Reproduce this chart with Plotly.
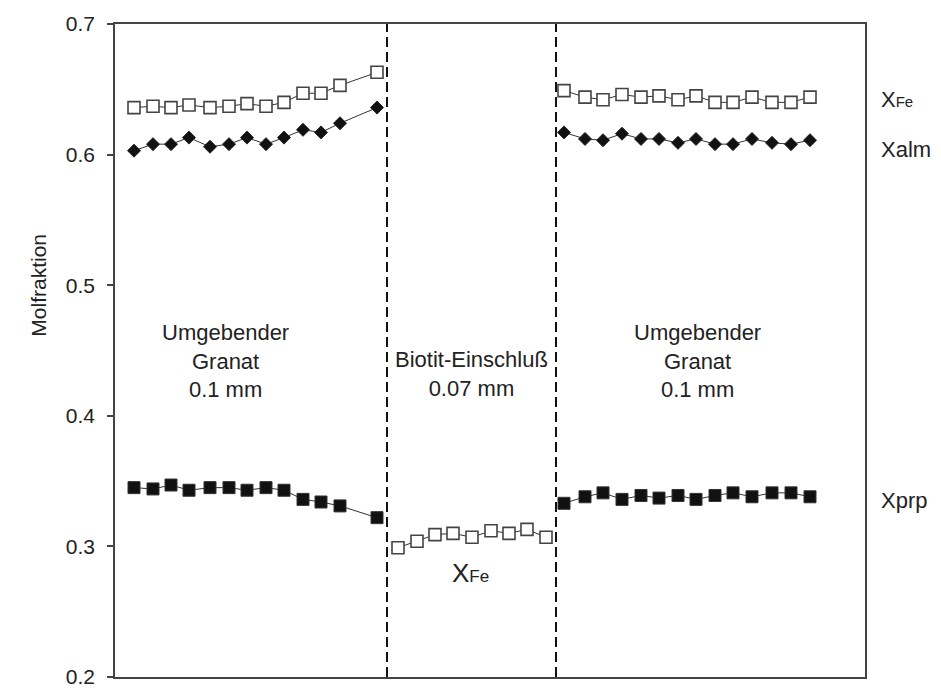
import plotly.graph_objects as go

# Position along the profile (arbitrary units), three zones
x_left = [19, 38, 56, 74, 95, 114, 132, 151, 169, 188, 206, 225, 262]
x_mid = [283, 302, 320, 338, 357, 376, 394, 412, 431]
x_right = [449, 470, 488, 507, 526, 544, 563, 581, 600, 618, 637, 657, 676, 695]
boundaries = [272, 441]

# Garnet (left)
xfe_left = [0.636, 0.637, 0.636, 0.638, 0.636, 0.637, 0.639, 0.637, 0.640, 0.647, 0.647, 0.653, 0.663]
xalm_left = [0.603, 0.608, 0.608, 0.613, 0.606, 0.608, 0.613, 0.608, 0.613, 0.619, 0.617, 0.624, 0.636]
xprp_left = [0.345, 0.344, 0.347, 0.343, 0.345, 0.345, 0.343, 0.345, 0.343, 0.336, 0.334, 0.331, 0.322]

# Biotite inclusion (middle)
xfe_mid = [0.299, 0.304, 0.309, 0.310, 0.307, 0.312, 0.310, 0.313, 0.307]

# Garnet (right)
xfe_right = [0.649, 0.644, 0.642, 0.646, 0.644, 0.645, 0.642, 0.645, 0.640, 0.640, 0.644, 0.640, 0.640, 0.644]
xalm_right = [0.617, 0.612, 0.611, 0.616, 0.612, 0.612, 0.609, 0.612, 0.608, 0.608, 0.612, 0.609, 0.608, 0.611]
xprp_right = [0.333, 0.338, 0.341, 0.336, 0.339, 0.337, 0.339, 0.336, 0.339, 0.341, 0.338, 0.341, 0.341, 0.338]

y_ticks = [0.2, 0.3, 0.4, 0.5, 0.6, 0.7]

FONT = "Liberation Sans, Arial, sans-serif"
LINE = dict(color="#333333", width=1)

open_sq = dict(symbol="square", size=12, color="white", line=dict(color="#444444", width=1.6))
filled_sq = dict(symbol="square", size=12, color="#111111", line=dict(color="#333333", width=1))
diamond = dict(symbol="diamond", size=10, color="#111111", line=dict(color="#222222", width=1))

fig = go.Figure()

def add(x, y, marker):
    fig.add_trace(go.Scatter(x=x, y=y, mode="lines+markers", line=LINE,
                             marker=marker, showlegend=False, hoverinfo="x+y"))

add(x_left, xfe_left, open_sq)
add(x_left, xalm_left, diamond)
add(x_left, xprp_left, filled_sq)
add(x_mid, xfe_mid, open_sq)
add(x_right, xfe_right, open_sq)
add(x_right, xalm_right, diamond)
add(x_right, xprp_right, filled_sq)

for b in boundaries:
    fig.add_shape(type="line", x0=b, x1=b, y0=0, y1=1, xref="x", yref="paper",
                  line=dict(color="#111111", width=2, dash="10px,5px"))

ann_font = dict(family=FONT, size=22, color="#222222")
fig.add_annotation(x=110, y=0.4418, xref="x", yref="y", text="Umgebender<br>Granat<br>0.1 mm",
                   showarrow=False, font=ann_font, align="center")
fig.add_annotation(x=356, y=0.4317, xref="x", yref="y", text="Biotit-Einschluß<br>0.07 mm",
                   showarrow=False, font=ann_font, align="center")
fig.add_annotation(x=582, y=0.4418, xref="x", yref="y", text="Umgebender<br>Granat<br>0.1 mm",
                   showarrow=False, font=ann_font, align="center")

fig.add_annotation(x=355, y=0.280, xref="x", yref="y",
                   text="X<span style='font-size:17px'>Fe</span>",
                   showarrow=False, font=dict(family=FONT, size=26, color="#222222"))

right_font = dict(family=FONT, size=22, color="#222222")
fig.add_annotation(x=1.018, y=0.642, xref="paper", yref="y", xanchor="left",
                   text="X<span style='font-size:15px'>Fe</span>", showarrow=False, font=right_font)
fig.add_annotation(x=1.018, y=0.604, xref="paper", yref="y", xanchor="left",
                   text="Xalm", showarrow=False, font=right_font)
fig.add_annotation(x=1.018, y=0.3355, xref="paper", yref="y", xanchor="left",
                   text="Xprp", showarrow=False, font=right_font)

fig.add_annotation(x=-0.12, y=0.5, xref="paper", yref="y", text="Molfraktion",
                   textangle=-90, showarrow=False, font=dict(family=FONT, size=21, color="#222222"))

fig.update_layout(
    width=941, height=700,
    margin=dict(l=115, r=76, t=18, b=14),
    paper_bgcolor="white", plot_bgcolor="white",
    font=dict(family=FONT, size=21, color="#222222"),
    xaxis=dict(range=[0, 750], showgrid=False, zeroline=False, showticklabels=False,
               ticks="", showline=True, mirror=True, linecolor="#444444", linewidth=1.5),
    yaxis=dict(range=[0.2, 0.7], tickvals=y_ticks, ticktext=[f"{v:.1f}" for v in y_ticks],
               showgrid=False, zeroline=False, ticks="outside", ticklen=6, tickwidth=1.5,
               tickcolor="#444444", showline=True, mirror=True, linecolor="#444444",
               linewidth=1.5, ticklabelstandoff=8,
               tickfont=dict(family=FONT, size=21, color="#222222")),
)

fig.write_html(
    "out.html",
    config={"displayModeBar": False},
    post_script="document.body.style.margin='0';document.body.style.overflow='hidden';",
)
